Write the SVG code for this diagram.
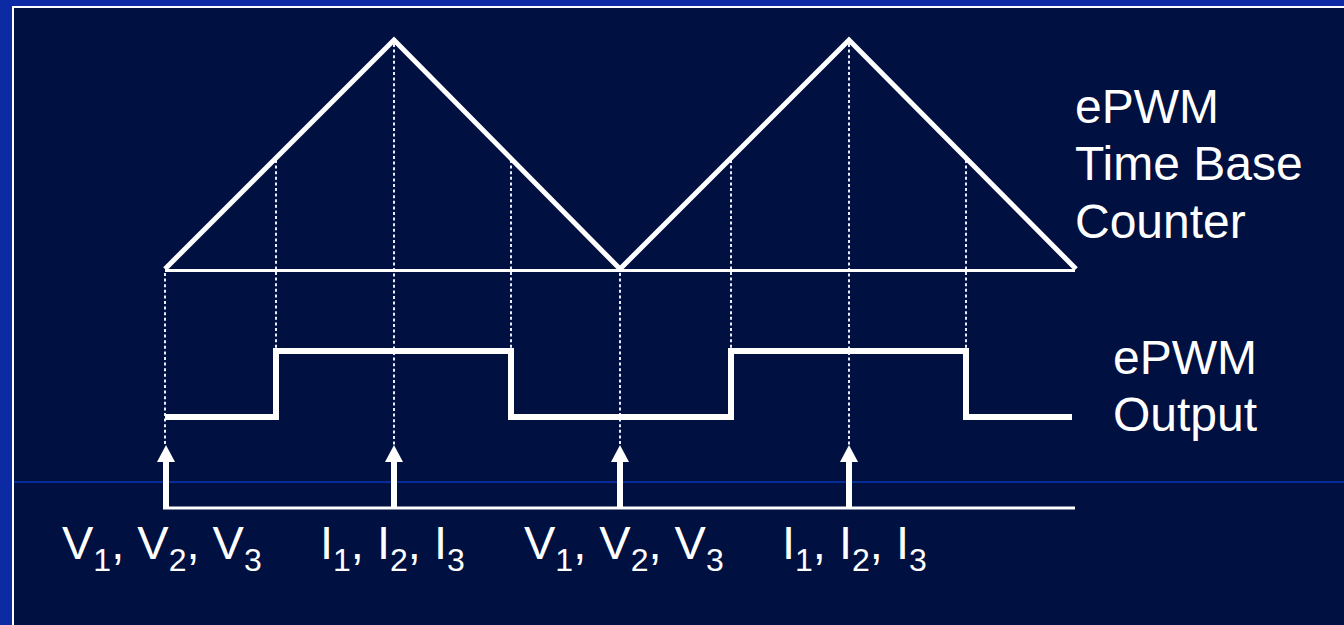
<svg xmlns="http://www.w3.org/2000/svg" width="1344" height="625" viewBox="0 0 1344 625">
<defs>
<style>
.txt{font-family:"Liberation Sans",Arial,sans-serif;fill:#ffffff;font-size:48px}
.lbl{font-family:"Liberation Sans",Arial,sans-serif;fill:#ffffff;font-size:47px}
.sub{font-size:32px}
.wave{fill:none;stroke:#ffffff;stroke-linejoin:miter}
.dot{stroke:#e8ecff;stroke-width:2;stroke-dasharray:3 2.6;fill:none}
.arr{fill:#ffffff}
</style>
</defs>
<rect x="0" y="0" width="1344" height="625" fill="#0B2AA4"/>
<rect x="12" y="6" width="1332" height="619" fill="#ffffff"/>
<rect x="14" y="8" width="1330" height="617" fill="#001040"/>
<line x1="14" y1="482" x2="1344" y2="482" stroke="#0B34B8" stroke-width="1.5"/>

<g id="connectors">
<line class="dot" x1="165" y1="273" x2="165" y2="446"/>
<line class="dot" x1="276" y1="160" x2="276" y2="348"/>
<line class="dot" x1="394" y1="44" x2="394" y2="446"/>
<line class="dot" x1="511" y1="160" x2="511" y2="348"/>
<line class="dot" x1="620" y1="273" x2="620" y2="446"/>
<line class="dot" x1="731" y1="160" x2="731" y2="348"/>
<line class="dot" x1="849" y1="44" x2="849" y2="446"/>
<line class="dot" x1="966" y1="160" x2="966" y2="348"/>
</g>

<g id="time-base-counter">
<line x1="165" y1="270.5" x2="1075" y2="270.5" stroke="#ffffff" stroke-width="3"/>
<polyline class="wave" stroke-width="5" points="165,269 394,40 620,269 849,40 1076,269"/>
</g>

<g id="epwm-output">
<polyline class="wave" stroke-width="6" points="165,417 276,417 276,351 511,351 511,417 731,417 731,351 966,351 966,417 1072,417"/>
</g>

<g id="sample-triggers">
<line x1="163" y1="508" x2="1075" y2="508" stroke="#ffffff" stroke-width="3"/>
<rect class="arr" x="163" y="460" width="6" height="49"/>
<polygon class="arr" points="166,445 157,462 175,462"/>
<rect class="arr" x="391" y="460" width="6" height="49"/>
<polygon class="arr" points="394,445 385,462 403,462"/>
<rect class="arr" x="617" y="460" width="6" height="49"/>
<polygon class="arr" points="620,445 611,462 629,462"/>
<rect class="arr" x="846" y="460" width="6" height="49"/>
<polygon class="arr" points="849,445 840,462 858,462"/>
</g>

<g id="label-counter">
<text class="txt" x="1075" y="123">ePWM</text>
<text class="txt" x="1075" y="180">Time Base</text>
<text class="txt" x="1075" y="238">Counter</text>
</g>

<g id="label-output">
<text class="txt" x="1113" y="374">ePWM</text>
<text class="txt" x="1113" y="431">Output</text>
</g>

<g id="label-v1">
<text class="lbl" x="62" y="559">V<tspan class="sub" dy="12">1</tspan><tspan dy="-12">, V</tspan><tspan class="sub" dy="12">2</tspan><tspan dy="-12">, V</tspan><tspan class="sub" dy="12">3</tspan></text>
</g>
<g id="label-i1">
<text class="lbl" x="320" y="559">I<tspan class="sub" dy="12">1</tspan><tspan dy="-12">, I</tspan><tspan class="sub" dy="12">2</tspan><tspan dy="-12">, I</tspan><tspan class="sub" dy="12">3</tspan></text>
</g>
<g id="label-v2">
<text class="lbl" x="524" y="559">V<tspan class="sub" dy="12">1</tspan><tspan dy="-12">, V</tspan><tspan class="sub" dy="12">2</tspan><tspan dy="-12">, V</tspan><tspan class="sub" dy="12">3</tspan></text>
</g>
<g id="label-i2">
<text class="lbl" x="782" y="559">I<tspan class="sub" dy="12">1</tspan><tspan dy="-12">, I</tspan><tspan class="sub" dy="12">2</tspan><tspan dy="-12">, I</tspan><tspan class="sub" dy="12">3</tspan></text>
</g>
</svg>
